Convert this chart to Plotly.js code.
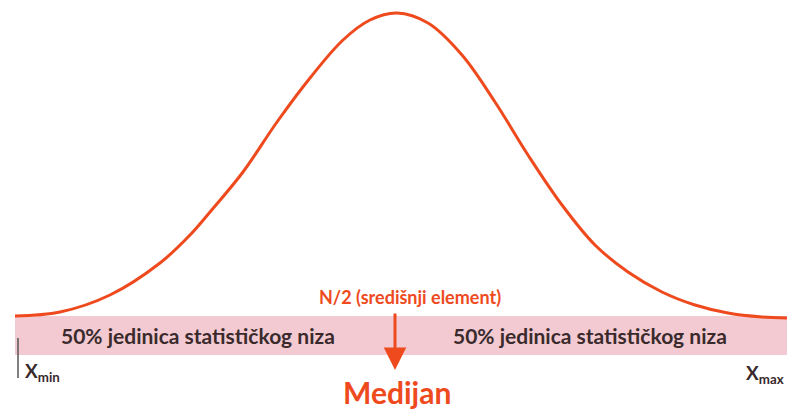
<!DOCTYPE html>
<html>
<head>
<meta charset="utf-8">
<script src="https://cdn.plot.ly/plotly-3.0.1.min.js"></script>
<style>html,body{margin:0;padding:0;background:#fff;}#chart{width:787px;height:410px;}</style>
</head>
<body>
<div id="chart"></div>
<script>
// Curve: horizontal position and height above the bottom edge (units = px of the original)
const curveX = [15, 60, 110, 160, 190, 210, 243, 277, 310, 343, 370, 397, 428, 462, 495, 528, 562, 595, 628, 662, 695, 728, 762, 787];
const curveY = [94, 98, 115, 147, 175, 198, 238, 288, 332, 370, 390, 397, 387, 355, 308, 255, 205, 165, 138, 118, 105, 97, 93, 92];

// Band (statistical series) extent and levels
const bandX = [15, 787];
const bandY = [55, 94];
const medianX = 395;
const arrowY = [98, 40];
const leftLabel = "50% jedinica statističkog niza";
const rightLabel = "50% jedinica statističkog niza";
const medianTop = "N/2 (središnji element)";
const medianLabel = "Medijan";
const xMinLabel = "X<sub>min</sub>";
const xMaxLabel = "X<sub>max</sub>";
const leftLabelX = 198, rightLabelX = 590;

const orange = "#ee4a1e";
const dark = "#3a2a2c";

const traces = [{
  x: curveX, y: curveY, mode: "lines", type: "scatter",
  line: {color: orange, width: 3, shape: "spline", smoothing: 1},
  hoverinfo: "skip"
}];

const layout = {
  width: 787, height: 410,
  margin: {l: 0, r: 0, t: 0, b: 0},
  paper_bgcolor: "#ffffff", plot_bgcolor: "#ffffff",
  showlegend: false,
  xaxis: {range: [0, 787], visible: false, fixedrange: true},
  yaxis: {range: [0, 410], visible: false, fixedrange: true},
  shapes: [
    {type: "rect", xref: "x", yref: "y", x0: bandX[0], x1: bandX[1], y0: bandY[0], y1: bandY[1],
     fillcolor: "#f3cad2", line: {width: 0}, layer: "below"},
    {type: "line", xref: "x", yref: "y", x0: 18, x1: 18, y0: 32, y1: 72,
     line: {color: "#555", width: 1.5}}
  ],
  annotations: [
    {x: leftLabelX, y: 75, xref: "x", yref: "y", text: leftLabel, showarrow: false,
     font: {family: "Lato", size: 21, color: dark, weight: 700}},
    {x: rightLabelX, y: 75, xref: "x", yref: "y", text: rightLabel, showarrow: false,
     font: {family: "Lato", size: 21, color: dark, weight: 700}},
    {x: 410, y: 113, xref: "x", yref: "y", text: medianTop, showarrow: false,
     font: {family: "Lato", size: 18, color: orange, weight: 700}},
    {x: 397, y: 18, xref: "x", yref: "y", text: medianLabel, showarrow: false,
     font: {family: "Lato", size: 30, color: orange, weight: 700}},
    {x: medianX, y: arrowY[1], ax: medianX, ay: arrowY[0], xref: "x", yref: "y", axref: "x", ayref: "y",
     text: "", showarrow: true, arrowhead: 2, arrowsize: 1.5, arrowwidth: 3, arrowcolor: orange},
    {x: 23, y: 38, xref: "x", yref: "y", xanchor: "left", text: xMinLabel, showarrow: false,
     font: {family: "Lato", size: 19, color: dark, weight: 700}},
    {x: 786, y: 36, xref: "x", yref: "y", xanchor: "right", text: xMaxLabel, showarrow: false,
     font: {family: "Lato", size: 19, color: dark, weight: 700}}
  ]
};

Plotly.newPlot("chart", traces, layout, {displayModeBar: false, staticPlot: true});
</script>
</body>
</html>
